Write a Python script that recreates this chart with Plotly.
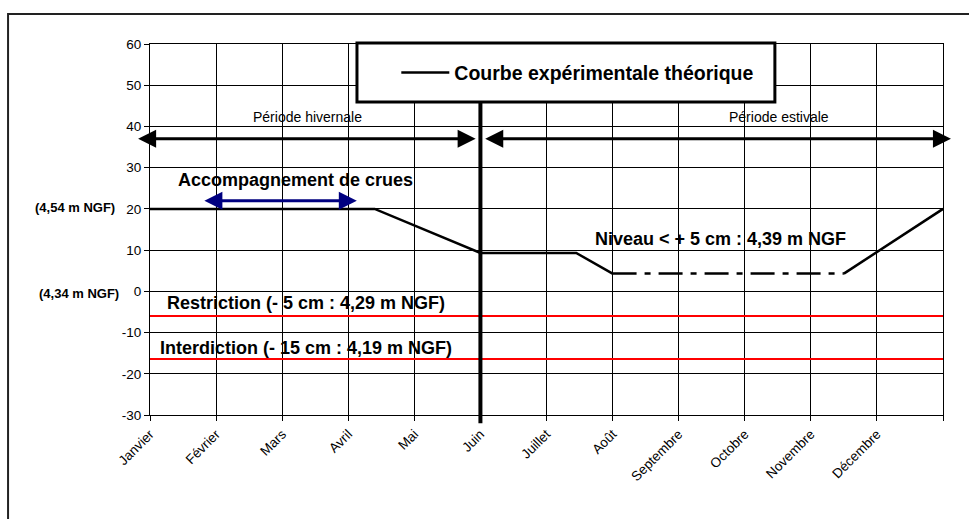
import plotly.graph_objects as go

months = ["Janvier", "Février", "Mars", "Avril", "Mai", "Juin", "Juillet", "Août",
          "Septembre", "Octobre", "Novembre", "Décembre", ""]
month_pos = list(range(13))
y_ticks = [60, 50, 40, 30, 20, 10, 0, -10, -20, -30]
y_ticktext = ["60", "50", "40", "30", "20", "10", "0", "-10", "-20", "-30"]

# experimental curve (x in months from January)
curve_x1 = [0, 3.4, 5, 6.45, 7]
curve_y1 = [20, 20, 9.3, 9.3, 4.3]
curve_x2 = [7, 10.5]
curve_y2 = [4.3, 4.3]
curve_x3 = [10.5, 12]
curve_y3 = [4.3, 20]

restriction_y = -6
interdiction_y = -16.4
june_x = 5

FONT = "Liberation Sans, Arial, sans-serif"

fig = go.Figure()
fig.add_trace(go.Scatter(x=curve_x1, y=curve_y1, mode="lines", name="<b>Courbe expérimentale théorique</b>",
                         line=dict(color="black", width=2.5), showlegend=True))
fig.add_trace(go.Scatter(x=curve_x2, y=curve_y2, mode="lines", showlegend=False,
                         line=dict(color="black", width=2.5, dash="24px,8px,6px,8px")))
fig.add_trace(go.Scatter(x=curve_x3, y=curve_y3, mode="lines", showlegend=False,
                         line=dict(color="black", width=2.5)))
fig.add_trace(go.Scatter(x=[0, 12], y=[restriction_y, restriction_y], mode="lines", showlegend=False,
                         line=dict(color="red", width=2)))
fig.add_trace(go.Scatter(x=[0, 12], y=[interdiction_y, interdiction_y], mode="lines", showlegend=False,
                         line=dict(color="red", width=2)))

shapes = [
    dict(type="line", xref="x", yref="paper", x0=june_x, x1=june_x, y0=-0.022, y1=1.0,
         line=dict(color="black", width=4), layer="above"),
    dict(type="rect", xref="paper", yref="paper", x0=0.261, x1=0.788, y0=0.8437, y1=1.0027,
         line=dict(color="black", width=3), fillcolor="white", layer="above"),
    dict(type="rect", xref="paper", yref="paper", x0=-0.179, x1=1.06, y0=-0.35, y1=1.081,
         line=dict(color="#222", width=2), fillcolor="rgba(0,0,0,0)", layer="above"),
]

ann = []
def arrow(x_head, x_tail, y, color):
    ann.append(dict(x=x_head, y=y, ax=x_tail, ay=y, xref="x", yref="y", axref="x", ayref="y",
                    text="", showarrow=True, arrowside="end+start", arrowhead=2,
                    arrowsize=1.2, arrowwidth=3, arrowcolor=color, standoff=0, startstandoff=0))

arrow(-0.18, 4.95, 37, "black")
arrow(12.12, 5.05, 37, "black")
arrow(3.13, 0.80, 22, "#000080")

def txt(x, y, s, size, bold=False, xanchor="left", xref="x"):
    ann.append(dict(x=x, y=y, xref=xref, yref="y", text=f"<b>{s}</b>" if bold else s,
                    showarrow=False, xanchor=xanchor, yanchor="middle",
                    font=dict(family=FONT, size=size, color="black")))

txt(2.39, 42.2, "Période hivernale", 14, xanchor="center")
txt(9.52, 42.2, "Période estivale", 14, xanchor="center")
txt(0.39, 26.9, "Accompagnement de crues", 18, bold=True)
txt(6.70, 12.6, "Niveau &lt; + 5 cm : 4,39 m NGF", 18, bold=True)
txt(0.23, -2.9, "Restriction (- 5 cm : 4,29 m NGF)", 18, bold=True)
txt(0.12, -13.8, "Interdiction (- 15 cm : 4,19 m NGF)", 18, bold=True)
txt(-0.041, 20.3, "(4,54 m NGF)", 13, bold=True, xanchor="right", xref="paper")
txt(-0.036, -0.6, "(4,34 m NGF)", 13, bold=True, xanchor="right", xref="paper")

fig.update_layout(
    width=969, height=519,
    margin=dict(l=150, r=26, t=44, b=104),
    paper_bgcolor="white", plot_bgcolor="white",
    font=dict(family=FONT, size=13, color="black"),
    shapes=shapes, annotations=ann,
    legend=dict(x=0.3106, y=0.922, xanchor="left", yanchor="middle",
                bgcolor="rgba(0,0,0,0)", borderwidth=0,
                font=dict(family=FONT, size=19.5, color="black"),
                itemwidth=48),
    xaxis=dict(range=[0, 12], tickmode="array", tickvals=month_pos, ticktext=months,
               tickangle=-45, tickfont=dict(size=13.5), showgrid=True, gridcolor="black",
               gridwidth=1, showline=True, linecolor="black", linewidth=1, mirror=True,
               ticks="outside", ticklen=5, tickcolor="black", zeroline=False),
    yaxis=dict(range=[-30, 60], tickmode="array", tickvals=y_ticks, ticktext=y_ticktext,
               showgrid=True, gridcolor="black",
               gridwidth=1, showline=True, linecolor="black", linewidth=1, mirror=True,
               ticks="outside", ticklen=5, tickcolor="black", zeroline=False,
               tickfont=dict(size=13.5)),
)

fig.write_html("out.html", config={"displayModeBar": False},
               post_script="document.body.style.margin='0px';document.body.style.overflow='hidden';")
